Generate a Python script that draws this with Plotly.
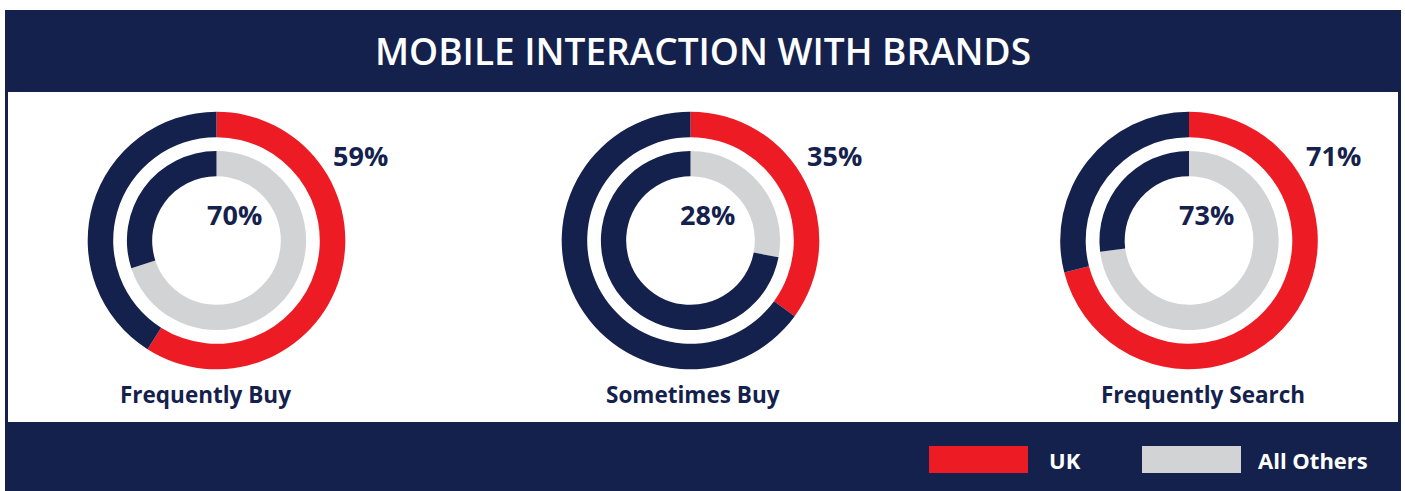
import plotly.graph_objects as go

# ---- data ----
categories = ["Frequently Buy", "Sometimes Buy", "Frequently Search"]
uk_values = [59, 35, 71]
others_values = [70, 28, 73]
series_names = ["UK", "All Others"]
title_text = "MOBILE INTERACTION WITH BRANDS"

# ---- style ----
NAVY = "#14214d"
RED = "#ed1c24"
GRAY = "#d1d3d4"
W, H = 1405, 491
FONT = "Open Sans"

centers = [(216.5, 240.5), (690.5, 240.5), (1189.0, 240.5)]
R_OUT, R_IN = 128.8, 89.6
HOLE_OUT, HOLE_IN = 0.802, 0.718
cat_label_x = [206, 692.5, 1202.5]
cat_label_y = 394
outer_lbl_dx, outer_lbl_y = 144, 155
inner_lbl_dx, inner_lbl_y = 17.5, 215


def dom(cx, cy, r):
    return dict(x=[(cx - r) / W, (cx + r) / W], y=[1 - (cy + r) / H, 1 - (cy - r) / H])


def px(x):
    return x / W


def py(y):
    return 1 - y / H


fig = go.Figure()
annotations = []
for i, cat in enumerate(categories):
    cx, cy = centers[i]
    fig.add_trace(go.Pie(
        values=[uk_values[i], 100 - uk_values[i]],
        labels=[series_names[0], "rest"],
        marker=dict(colors=[RED, NAVY], line=dict(width=0)),
        hole=HOLE_OUT, sort=False, direction="clockwise", rotation=0,
        textinfo="none", hoverinfo="label+value", showlegend=False,
        domain=dom(cx, cy, R_OUT), name=cat,
    ))
    fig.add_trace(go.Pie(
        values=[others_values[i], 100 - others_values[i]],
        labels=[series_names[1], "rest"],
        marker=dict(colors=[GRAY, NAVY], line=dict(width=0)),
        hole=HOLE_IN, sort=False, direction="clockwise", rotation=0,
        textinfo="none", hoverinfo="label+value", showlegend=False,
        domain=dom(cx, cy, R_IN), name=cat,
    ))
    annotations.append(dict(x=px(cx + outer_lbl_dx), y=py(outer_lbl_y), text=f"{uk_values[i]}%",
                            showarrow=False, xanchor="center", yanchor="middle",
                            font=dict(family=FONT, size=27, color=NAVY, weight="bold")))
    annotations.append(dict(x=px(cx + inner_lbl_dx), y=py(inner_lbl_y), text=f"{others_values[i]}%",
                            showarrow=False, xanchor="center", yanchor="middle",
                            font=dict(family=FONT, size=27, color=NAVY, weight="bold")))
    annotations.append(dict(x=px(cat_label_x[i]), y=py(cat_label_y), text=cat,
                            showarrow=False, xanchor="center", yanchor="middle",
                            font=dict(family=FONT, size=22.5, color=NAVY, weight="bold")))

# title
annotations.append(dict(x=px(703), y=py(50), text=title_text, showarrow=False,
                        xanchor="center", yanchor="middle",
                        font=dict(family=FONT, size=37, color="white", weight=600)))

# legend
legend_colors = [RED, GRAY]
legend_box_x = [929, 1142]
legend_text_x = [1047, 1256]
shapes = [
    dict(type="rect", xref="paper", yref="paper", x0=px(5), x1=px(1401), y0=py(491), y1=py(10),
         fillcolor=NAVY, line=dict(width=0), layer="below"),
    dict(type="rect", xref="paper", yref="paper", x0=px(8), x1=px(1398), y0=py(422), y1=py(92),
         fillcolor="white", line=dict(width=0), layer="below"),
]
for j, name in enumerate(series_names):
    shapes.append(dict(type="rect", xref="paper", yref="paper",
                       x0=px(legend_box_x[j]), x1=px(legend_box_x[j] + 99),
                       y0=py(473), y1=py(446), fillcolor=legend_colors[j],
                       line=dict(width=0), layer="below"))
    annotations.append(dict(x=px(legend_text_x[j]), y=py(459.5), text=name, showarrow=False,
                            xanchor="left", yanchor="middle",
                            font=dict(family=FONT, size=22, color="white", weight="bold")))

fig.update_layout(
    width=W, height=H, margin=dict(l=0, r=0, t=0, b=0),
    paper_bgcolor="white", plot_bgcolor="white",
    shapes=shapes, annotations=annotations, showlegend=False,
)
fig.write_html("out.html")
